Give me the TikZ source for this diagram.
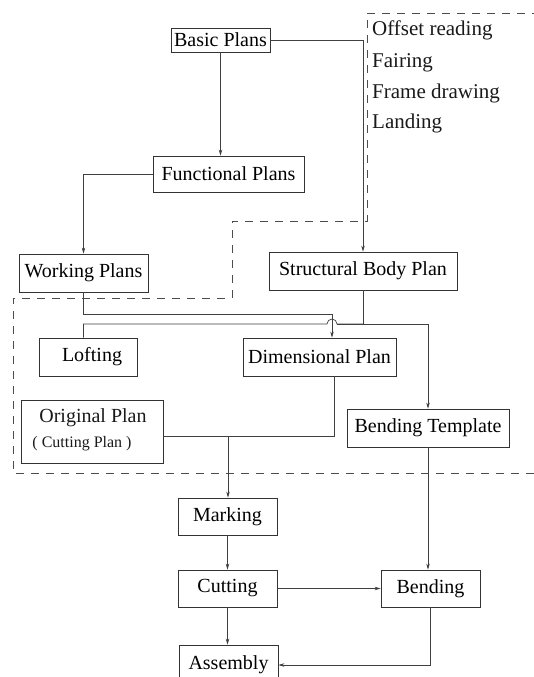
\documentclass[tikz,border=0pt]{standalone}
\usepackage{fontspec}
\setmainfont{Liberation Serif}
\usetikzlibrary{arrows.meta}
\begin{document}
\begin{tikzpicture}[x=1pt,y=-1pt,
  box/.style={draw=black!80, line width=0.8pt, inner sep=0pt, fill=white,
    font=\fontsize{20}{24}\selectfont},
  txt/.style={inner sep=0pt, font=\fontsize{20}{24}\selectfont, text=black!90},
  note/.style={inner sep=0pt, font=\fontsize{21}{25}\selectfont, text=black!90, anchor=base west},
  con/.style={draw=black!75, line width=0.7pt},
  arr/.style={con, -{Stealth[length=6pt,width=3.5pt]}},
  dashline/.style={draw=black!70, line width=0.8pt, dash pattern=on 8pt off 7pt}]
\useasboundingbox (0,0) rectangle (533,677);

% dashed outline
\draw[dashline] (540,13) -- (367,13) -- (367,221) -- (232,221) -- (232,298)
  -- (13,298) -- (13,473) -- (540,473);

% boxes
\node[box, minimum width=99, minimum height=24] (basic) at (220.5,40) {Basic Plans};
\node[box, minimum width=151, minimum height=36] (functional) at (228.5,174) {Functional Plans};
\node[box, minimum width=129, minimum height=38] (working) at (83.5,273) {Working Plans};
\node[box, minimum width=188, minimum height=38] (structural) at (363,271) {Structural Body Plan};
\node[box, minimum width=98, minimum height=38] (lofting) at (88,357) {\hspace{8pt}Lofting};
\node[box, minimum width=153, minimum height=38] (dimensional) at (319.5,357) {Dimensional Plan};
\node[box, minimum width=142, minimum height=63] (original) at (92,431.5) {};
\node[txt] (origtxt) at (93,418) {Original Plan};
\node[txt, font=\fontsize{16}{19}\selectfont] (cuttxt) at (82,444) {( Cutting Plan )};
\node[box, minimum width=162, minimum height=38] (bendtemp) at (428,428) {Bending Template};
\node[box, minimum width=99, minimum height=37] (marking) at (227.5,516.5) {Marking};
\node[box, minimum width=99, minimum height=37] (cutting) at (227.5,588.5) {Cutting};
\node[box, minimum width=99, minimum height=37] (bending) at (430.5,588.5) {Bending};
\node[box, minimum width=99, minimum height=40] (assembly) at (228.5,665) {Assembly};

% side notes
\node[note] (n1) at (372,36) {Offset reading};
\node[note] (n2) at (372,67) {Fairing};
\node[note] (n3) at (372,98) {Frame drawing};
\node[note] (n4) at (372,128) {Landing};

% coordinates
\coordinate (j1) at (332,314);
\coordinate (hopL) at (327,324);
\coordinate (hopR) at (337,324);
\coordinate (m1) at (228,436);

% connectors
\draw[arr] (basic.south) -- (basic.south |- functional.north);
\draw[arr] (basic.east) -| (structural.north);
\draw[arr] (functional.west) -| (working.north);
\draw[arr] (working.south) |- (j1) -- (j1 |- dimensional.north);
\draw[con] (structural.south) -- (structural.south |- hopL);
\draw[con] (lofting.north -| working.south) -- (working.south |- hopL) -- (hopL)
  arc[start angle=180, end angle=0, radius=5pt] -- (hopR -| structural.south);
\draw[arr] (hopR) -| (bendtemp.north);
\draw[con] ([yshift=-4.5pt]original.east) -| ([xshift=14.5pt]dimensional.south);
\draw[arr] (m1) -- (m1 |- marking.north);
\draw[arr] (marking.south) -- (cutting.north);
\draw[arr] (cutting.east) -- (bending.west);
\draw[arr] (cutting.south) -- (cutting.south |- assembly.north);
\draw[arr] (bendtemp.south) -- (bendtemp.south |- bending.north);
\draw[arr] (bending.south) |- (assembly.east);
\end{tikzpicture}
\end{document}
